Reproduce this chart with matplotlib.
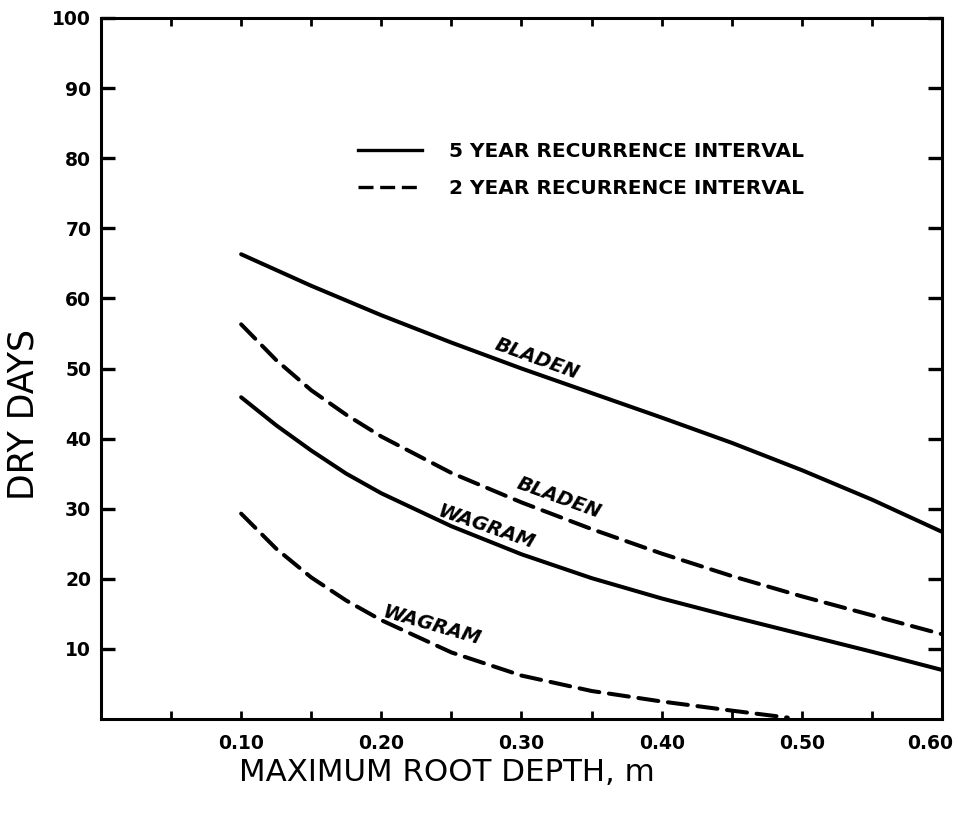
import matplotlib
matplotlib.use("Agg")
import matplotlib.pyplot as plt
from matplotlib.lines import Line2D
from matplotlib.ticker import MultipleLocator, FixedLocator
from matplotlib.transforms import ScaledTranslation

# maximum root depth (m) and dry days read per curve
DEPTH = [0.10, 0.15, 0.20, 0.25, 0.30, 0.35, 0.40, 0.45, 0.50, 0.55, 0.60]
BLADEN_5YR = [66.3, 61.8, 57.6, 53.7, 50.0, 46.5, 43.0, 39.4, 35.5, 31.3, 26.7]

DEPTH_FINE = [0.10, 0.125, 0.15, 0.175, 0.20, 0.25, 0.30, 0.35, 0.40, 0.45,
              0.50, 0.55, 0.60]
BLADEN_2YR = [56.3, 51.2, 46.9, 43.4, 40.3, 35.1, 30.9, 27.1, 23.6, 20.4,
              17.5, 14.8, 12.1]
WAGRAM_5YR = [45.9, 41.9, 38.3, 35.0, 32.2, 27.5, 23.5, 20.1, 17.2, 14.6,
              12.1, 9.6, 7.0]

WAGRAM_2YR_DEPTH = [0.10, 0.125, 0.15, 0.175, 0.20, 0.25, 0.30, 0.35, 0.40,
                    0.45, 0.49]
WAGRAM_2YR = [29.3, 24.3, 20.2, 16.9, 14.1, 9.5, 6.2, 4.0, 2.5, 1.2, 0.2]

X_TICKS = [0.10, 0.20, 0.30, 0.40, 0.50, 0.60]
X_TICK_LABELS = ["0.10", "0.20", "0.30", "0.40", "0.50", "0.60"]
Y_TICKS = [10, 20, 30, 40, 50, 60, 70, 80, 90, 100]

# curve labels: text, depth, days, angle
CURVE_LABELS = [
    ("BLADEN", 0.311, 51.3, -20),
    ("BLADEN", 0.327, 31.6, -20),
    ("WAGRAM", 0.275, 27.4, -19),
    ("WAGRAM", 0.236, 13.3, -16),
]

LEGEND_LABELS = ["5 YEAR RECURRENCE INTERVAL", "2 YEAR RECURRENCE INTERVAL"]

LW = 2.9
DASH = (0, (5, 2.4))

fig = plt.figure(figsize=(9.58, 8.18), dpi=100)
ax = fig.add_axes([0.1054, 0.121, 0.8779, 0.857])

line_kw = dict(color="black", lw=LW, solid_capstyle="round",
               solid_joinstyle="round", dash_capstyle="round",
               dash_joinstyle="round")
ax.plot(DEPTH, BLADEN_5YR, **line_kw)
ax.plot(DEPTH_FINE, WAGRAM_5YR, **line_kw)
ax.plot(DEPTH_FINE, BLADEN_2YR, ls=DASH, **line_kw)
ax.plot(WAGRAM_2YR_DEPTH, WAGRAM_2YR, ls=DASH, **line_kw)

for text, x, y, ang in CURVE_LABELS:
    ax.text(x, y, text, rotation=ang, rotation_mode="anchor", ha="center",
            va="center", fontsize=14, fontweight="bold", fontstyle="italic")

ax.set_xlim(0, 0.60)
ax.set_ylim(0, 100)

ax.xaxis.set_major_locator(FixedLocator(X_TICKS))
ax.set_xticklabels(X_TICK_LABELS)
ax.xaxis.set_minor_locator(MultipleLocator(0.05))
ax.yaxis.set_major_locator(FixedLocator(Y_TICKS))

ax.tick_params(axis="x", which="both", direction="in", length=6, width=2,
               top=True, pad=11, labelsize=13.5)
ax.tick_params(axis="y", which="major", direction="in", length=10, width=2.4,
               right=True, pad=7, labelsize=13.5)
for lab in ax.get_xticklabels() + ax.get_yticklabels():
    lab.set_fontweight("bold")
# keep the last depth label inside the figure edge
last = ax.get_xticklabels()[-1]
last.set_transform(last.get_transform()
                   + ScaledTranslation(-0.12, 0, fig.dpi_scale_trans))

for sp in ax.spines.values():
    sp.set_linewidth(2.2)

ax.set_xlabel("MAXIMUM ROOT DEPTH, m", fontsize=22.2)
ax.xaxis.label.set_va("center")
ax.xaxis.set_label_coords(0.411, -0.0756)
ax.set_ylabel("DRY DAYS", fontsize=25)
ax.yaxis.label.set_va("center")
ax.yaxis.set_label_coords(-0.0916, 0.435)

handles = [
    Line2D([], [], color="black", lw=2.4),
    Line2D([], [], color="black", lw=2.4, ls=(0, (4.5, 2.0))),
]
ax.legend(handles, LEGEND_LABELS, loc="upper left", bbox_to_anchor=(0.3056, 0.823),
          frameon=False, borderpad=0, borderaxespad=0, handlelength=3.2,
          handletextpad=1.3, labelspacing=0.9,
          prop={"size": 14.5, "weight": "bold"})

fig.savefig("out.png", dpi=100)
